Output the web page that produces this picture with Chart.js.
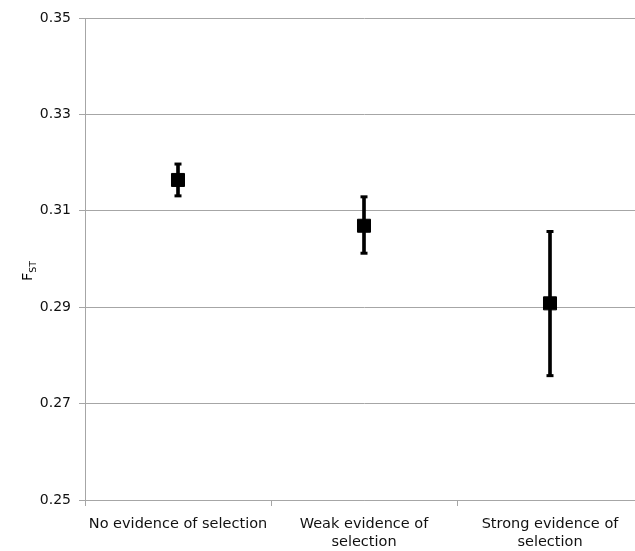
<!DOCTYPE html>
<html>
<head>
<meta charset="UTF-8">
<title>FST by selection evidence</title>
<script src="https://cdn.jsdelivr.net/npm/chart.js@4"></script>
<style>
  html,body{margin:0;padding:0;background:#fff;overflow:hidden;}
  canvas{display:block;}
</style>
</head>
<body>
<canvas id="c" width="643" height="551"></canvas>
<script>
// data
const categories = [['No evidence of selection'], ['Weak evidence of', 'selection'], ['Strong evidence of', 'selection']];
const fstMean = [0.3164, 0.3069, 0.2908];
const fstLow  = [0.3131, 0.3012, 0.2758];
const fstHigh = [0.3197, 0.3129, 0.3057];
const yTicks  = [0.25, 0.27, 0.29, 0.31, 0.33, 0.35];

const FONT = 'DejaVu Sans';

// y axis title with subscript, drawn as text on the canvas
const fstTitle = {
  id: 'fstTitle',
  afterDraw(chart) {
    const ctx = chart.ctx;
    const cy = (chart.chartArea.top + chart.chartArea.bottom) / 2 + 12;
    ctx.save();
    ctx.translate(32, cy);
    ctx.rotate(-Math.PI / 2);
    ctx.fillStyle = '#000';
    ctx.textBaseline = 'alphabetic';
    ctx.font = '14.5px ' + FONT;
    ctx.fillText('F', -10, 0);
    const fw = ctx.measureText('F').width;
    ctx.font = '9.5px ' + FONT;
    ctx.fillText('ST', -10 + fw, 4);
    ctx.restore();
  }
};

new Chart(document.getElementById('c'), {
  data: {
    labels: categories,
    datasets: [
      { // error ranges
        type: 'bar',
        data: fstLow.map((v, i) => [v, fstHigh[i]]),
        backgroundColor: '#000',
        barThickness: 3,
        order: 3
      },
      { // caps top
        type: 'line',
        data: fstHigh,
        showLine: false,
        pointStyle: 'line',
        pointRadius: 3.5,
        pointBorderWidth: 3,
        pointBorderColor: '#000',
        order: 2
      },
      { // caps bottom
        type: 'line',
        data: fstLow,
        showLine: false,
        pointStyle: 'line',
        pointRadius: 3.5,
        pointBorderWidth: 3,
        pointBorderColor: '#000',
        order: 2
      },
      { // means
        type: 'line',
        data: fstMean,
        showLine: false,
        pointStyle: 'rect',
        pointRadius: 9.2,
        pointBackgroundColor: '#000',
        pointBorderColor: '#000',
        pointBorderWidth: 1,
        order: 1
      }
    ]
  },
  options: {
    responsive: false,
    animation: false,
    layout: { autoPadding: false, padding: { top: 18, right: 0, left: 0, bottom: 0 } },
    plugins: { legend: { display: false }, tooltip: { enabled: false } },
    scales: {
      x: {
        type: 'category',
        offset: true,
        grid: { offset: true, drawOnChartArea: false, color: '#a6a6a6', tickLength: 6, tickColor: '#a6a6a6' },
        border: { color: '#a6a6a6', width: 1 },
        ticks: { color: '#111', font: { family: FONT, size: 14.5 }, padding: 10, maxRotation: 0, autoSkip: false },
        afterFit(s) { s.height = 51; s.paddingLeft = 0; s.paddingRight = 0; }
      },
      y: {
        min: 0.25,
        max: 0.35,
        afterBuildTicks(s) { s.ticks = yTicks.map(v => ({ value: v })); },
        grid: { color: '#a6a6a6', tickLength: 6, tickColor: '#a6a6a6' },
        border: { color: '#a6a6a6', width: 1 },
        ticks: { color: '#111', font: { family: FONT, size: 14 }, padding: 8, callback: v => v.toFixed(2) },
        afterFit(s) { s.width = 85; }
      }
    }
  },
  plugins: [fstTitle]
});
</script>
</body>
</html>
